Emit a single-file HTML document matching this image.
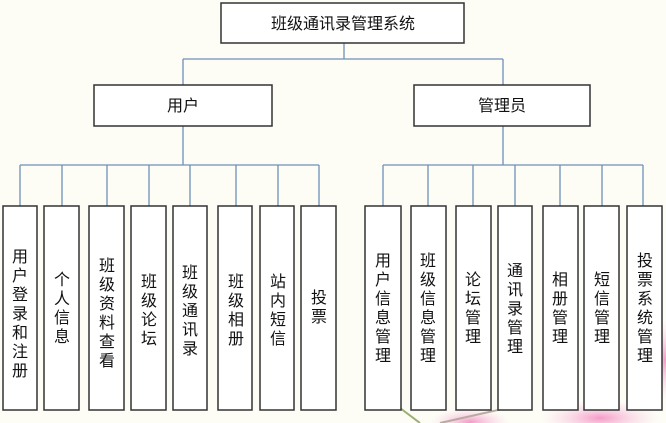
<!DOCTYPE html>
<html><head><meta charset="utf-8"><style>
body{margin:0;width:666px;height:423px;overflow:hidden;background:#fdfdf6;}
svg{display:block}
text{font-family:"Liberation Sans","Noto Sans CJK SC",sans-serif;font-size:16px;fill:#111}
</style></head><body>
<svg width="666" height="423" viewBox="0 0 666 423">
<defs>
<radialGradient id="p" cx="50%" cy="50%" r="50%"><stop offset="0" stop-color="#f49ac8"/><stop offset="1" stop-color="#f9d6e8" stop-opacity="0"/></radialGradient>
</defs>
<ellipse cx="470" cy="422" rx="40" ry="14" fill="url(#p)"/>
<ellipse cx="600" cy="418" rx="60" ry="18" fill="url(#p)"/>
<ellipse cx="665" cy="360" rx="10" ry="40" fill="url(#p)"/>
<line x1="440" y1="423" x2="520" y2="405" stroke="#b8aaa0" stroke-width="2"/>
<line x1="400" y1="408" x2="420" y2="423" stroke="#9ab070" stroke-width="2"/>
<g stroke="#6f8fb8" stroke-width="1.3" fill="none">
<path d="M344 43V59M183 59H503M183 59V85M503 59V85"/>
<path d="M183 126V165M20 165H319M20 165V206M62 165V206M107 165V206M149 165V206M190 165V206M236 165V206M278 165V206M319 165V206"/>
<path d="M503 126V165M383 165H643M383 165V206M428 165V206M473 165V206M515 165V206M560 165V206M602 165V206M643 165V206"/>
</g>
<g fill="#fff" stroke="#333" stroke-width="1.5">
<rect x="221" y="3" width="243" height="40"/>
<rect x="94" y="85" width="178" height="41"/>
<rect x="414" y="85" width="176" height="41"/>
<rect x="3" y="206" width="34" height="204"/><rect x="44" y="206" width="35" height="204"/>
<rect x="89" y="206" width="35" height="204"/><rect x="131" y="206" width="35" height="204"/>
<rect x="173" y="206" width="34" height="204"/><rect x="218" y="206" width="34" height="204"/>
<rect x="260" y="206" width="34" height="204"/><rect x="301" y="206" width="35" height="204"/>
<rect x="365" y="206" width="36" height="204"/><rect x="411" y="206" width="35" height="204"/>
<rect x="456" y="206" width="35" height="204"/><rect x="498" y="206" width="34" height="204"/>
<rect x="543" y="206" width="35" height="204"/><rect x="584" y="206" width="35" height="204"/>
<rect x="627" y="206" width="35" height="204"/>
</g>
<text x="343" y="29" text-anchor="middle">班级通讯录管理系统</text>
<text x="183" y="111" text-anchor="middle">用户</text>
<text x="502" y="111" text-anchor="middle">管理员</text>
<g text-anchor="middle">
<text x="20" y="262">用<tspan x="20" dy="19">户</tspan><tspan x="20" dy="19">登</tspan><tspan x="20" dy="19">录</tspan><tspan x="20" dy="19">和</tspan><tspan x="20" dy="19">注</tspan><tspan x="20" dy="19">册</tspan></text>
<text x="62" y="285">个<tspan x="62" dy="19">人</tspan><tspan x="62" dy="19">信</tspan><tspan x="62" dy="19">息</tspan></text>
<text x="107" y="271">班<tspan x="107" dy="19">级</tspan><tspan x="107" dy="19">资</tspan><tspan x="107" dy="19">料</tspan><tspan x="107" dy="19">查</tspan><tspan x="107" dy="19">看</tspan></text>
<text x="149" y="287">班<tspan x="149" dy="19">级</tspan><tspan x="149" dy="19">论</tspan><tspan x="149" dy="19">坛</tspan></text>
<text x="190" y="278">班<tspan x="190" dy="19">级</tspan><tspan x="190" dy="19">通</tspan><tspan x="190" dy="19">讯</tspan><tspan x="190" dy="19">录</tspan></text>
<text x="236" y="287">班<tspan x="236" dy="19">级</tspan><tspan x="236" dy="19">相</tspan><tspan x="236" dy="19">册</tspan></text>
<text x="278" y="287">站<tspan x="278" dy="19">内</tspan><tspan x="278" dy="19">短</tspan><tspan x="278" dy="19">信</tspan></text>
<text x="319" y="303">投<tspan x="319" dy="19">票</tspan></text>
<text x="383" y="266">用<tspan x="383" dy="19">户</tspan><tspan x="383" dy="19">信</tspan><tspan x="383" dy="19">息</tspan><tspan x="383" dy="19">管</tspan><tspan x="383" dy="19">理</tspan></text>
<text x="428" y="266">班<tspan x="428" dy="19">级</tspan><tspan x="428" dy="19">信</tspan><tspan x="428" dy="19">息</tspan><tspan x="428" dy="19">管</tspan><tspan x="428" dy="19">理</tspan></text>
<text x="473" y="285">论<tspan x="473" dy="19">坛</tspan><tspan x="473" dy="19">管</tspan><tspan x="473" dy="19">理</tspan></text>
<text x="515" y="276">通<tspan x="515" dy="19">讯</tspan><tspan x="515" dy="19">录</tspan><tspan x="515" dy="19">管</tspan><tspan x="515" dy="19">理</tspan></text>
<text x="560" y="285">相<tspan x="560" dy="19">册</tspan><tspan x="560" dy="19">管</tspan><tspan x="560" dy="19">理</tspan></text>
<text x="602" y="285">短<tspan x="602" dy="19">信</tspan><tspan x="602" dy="19">管</tspan><tspan x="602" dy="19">理</tspan></text>
<text x="645" y="266">投<tspan x="645" dy="19">票</tspan><tspan x="645" dy="19">系</tspan><tspan x="645" dy="19">统</tspan><tspan x="645" dy="19">管</tspan><tspan x="645" dy="19">理</tspan></text>
</g>
</svg>
</body></html>
